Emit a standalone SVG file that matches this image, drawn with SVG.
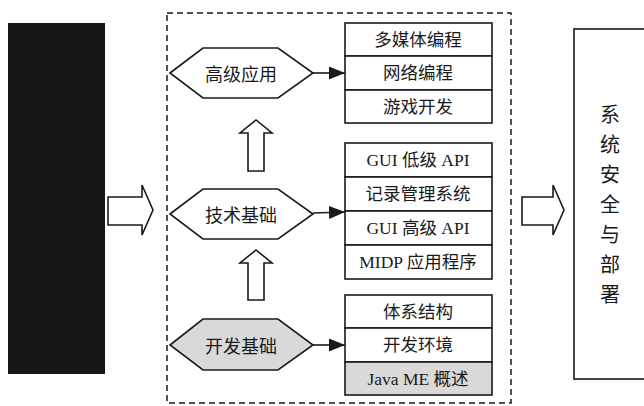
<svg xmlns="http://www.w3.org/2000/svg" width="644" height="406" viewBox="0 0 644 406">
<defs>
<style>
.ln{fill:none;stroke:#1a1a1a;stroke-width:1.6}
.hex{fill:#fff;stroke:#1a1a1a;stroke-width:1.6}
.hexg{fill:#d9d9d9;stroke:#1a1a1a;stroke-width:1.6}
.cell{fill:#fff;stroke:#1a1a1a;stroke-width:1.6}
.cellg{fill:#d9d9d9;stroke:#1a1a1a;stroke-width:1.6}
.big{fill:#fff;stroke:#1a1a1a;stroke-width:1.6;stroke-linejoin:miter}
.t{font-family:"Liberation Serif","Noto Sans CJK SC",serif;font-size:17.5px;fill:#1a1a1a;text-anchor:middle;dominant-baseline:central}
.th{font-family:"Noto Sans CJK SC",sans-serif;font-size:18px;fill:#1a1a1a;text-anchor:middle;dominant-baseline:central}
.tv{font-family:"Noto Sans CJK SC",sans-serif;font-size:20px;fill:#1a1a1a;text-anchor:middle;dominant-baseline:central}
.conn{stroke:#1a1a1a;stroke-width:1.6;fill:none}
</style>
<marker id="ah" viewBox="0 0 16 13" refX="16" refY="6.5" markerWidth="16" markerHeight="13" orient="auto" markerUnits="userSpaceOnUse">
<path d="M0,0 L16,6.5 L0,13 z" fill="#1a1a1a"/>
</marker>
</defs>

<rect id="left-block" x="8" y="23" width="97" height="351" fill="#161616"/>

<rect id="frame" x="167" y="13" width="344" height="390" fill="none" stroke="#1a1a1a" stroke-width="1.5" stroke-dasharray="6 4"/>

<g id="right-box">
<rect x="574" y="29" width="80" height="350" class="ln"/>
<text x="610" y="113" class="tv">系</text>
<text x="610" y="143" class="tv">统</text>
<text x="610" y="173" class="tv">安</text>
<text x="610" y="203" class="tv">全</text>
<text x="610" y="233" class="tv">与</text>
<text x="610" y="263" class="tv">部</text>
<text x="610" y="293" class="tv">署</text>
</g>

<g id="hex-advanced">
<polygon class="hex" points="170,73 203,48 278,48 313,73 278,98 203,98"/>
<text class="th" x="241" y="73">高级应用</text>
</g>
<g id="hex-tech">
<polygon class="hex" points="170,214 203,189 278,189 313,214 278,239 203,239"/>
<text class="th" x="241" y="214">技术基础</text>
</g>
<g id="hex-basic">
<polygon class="hexg" points="170,345 203,319 278,319 313,345 278,370 203,370"/>
<text class="th" x="241" y="345">开发基础</text>
</g>

<g id="stack-advanced">
<rect class="cell" x="345" y="23" width="147" height="33"/>
<rect class="cell" x="345" y="56" width="147" height="34"/>
<rect class="cell" x="345" y="90" width="147" height="33"/>
<text class="t" x="418" y="40">多媒体编程</text>
<text class="t" x="418" y="73">网络编程</text>
<text class="t" x="418" y="107">游戏开发</text>
</g>

<g id="stack-tech">
<rect class="cell" x="345" y="143" width="147" height="34"/>
<rect class="cell" x="345" y="177" width="147" height="34"/>
<rect class="cell" x="345" y="211" width="147" height="34"/>
<rect class="cell" x="345" y="245" width="147" height="34"/>
<text class="t" x="418" y="160">GUI 低级 API</text>
<text class="t" x="418" y="194">记录管理系统</text>
<text class="t" x="418" y="228">GUI 高级 API</text>
<text class="t" x="418" y="262">MIDP 应用程序</text>
</g>

<g id="stack-basic">
<rect class="cell" x="345" y="295" width="147" height="33"/>
<rect class="cell" x="345" y="328" width="147" height="34"/>
<rect class="cellg" x="345" y="362" width="147" height="33"/>
<text class="t" x="418" y="312">体系结构</text>
<text class="t" x="418" y="345">开发环境</text>
<text class="t" x="418" y="379">Java ME 概述</text>
</g>

<g id="connectors">
<line class="conn" x1="313" y1="73" x2="345" y2="73" marker-end="url(#ah)"/>
<line class="conn" x1="313" y1="213" x2="345" y2="212" marker-end="url(#ah)"/>
<line class="conn" x1="313" y1="345" x2="345" y2="345" marker-end="url(#ah)"/>
<polygon class="big" points="248,171 248,133 240,133 256,120 272,133 264,133 264,171"/>
<polygon class="big" points="248,300 248,263 240,263 256,250 272,263 264,263 264,300"/>
<polygon class="big" points="108,197 142,197 142,185 153,210 142,235 142,225 108,225"/>
<polygon class="big" points="522,197 553,197 553,185 564,210 553,235 553,225 522,225"/>
</g>
</svg>
